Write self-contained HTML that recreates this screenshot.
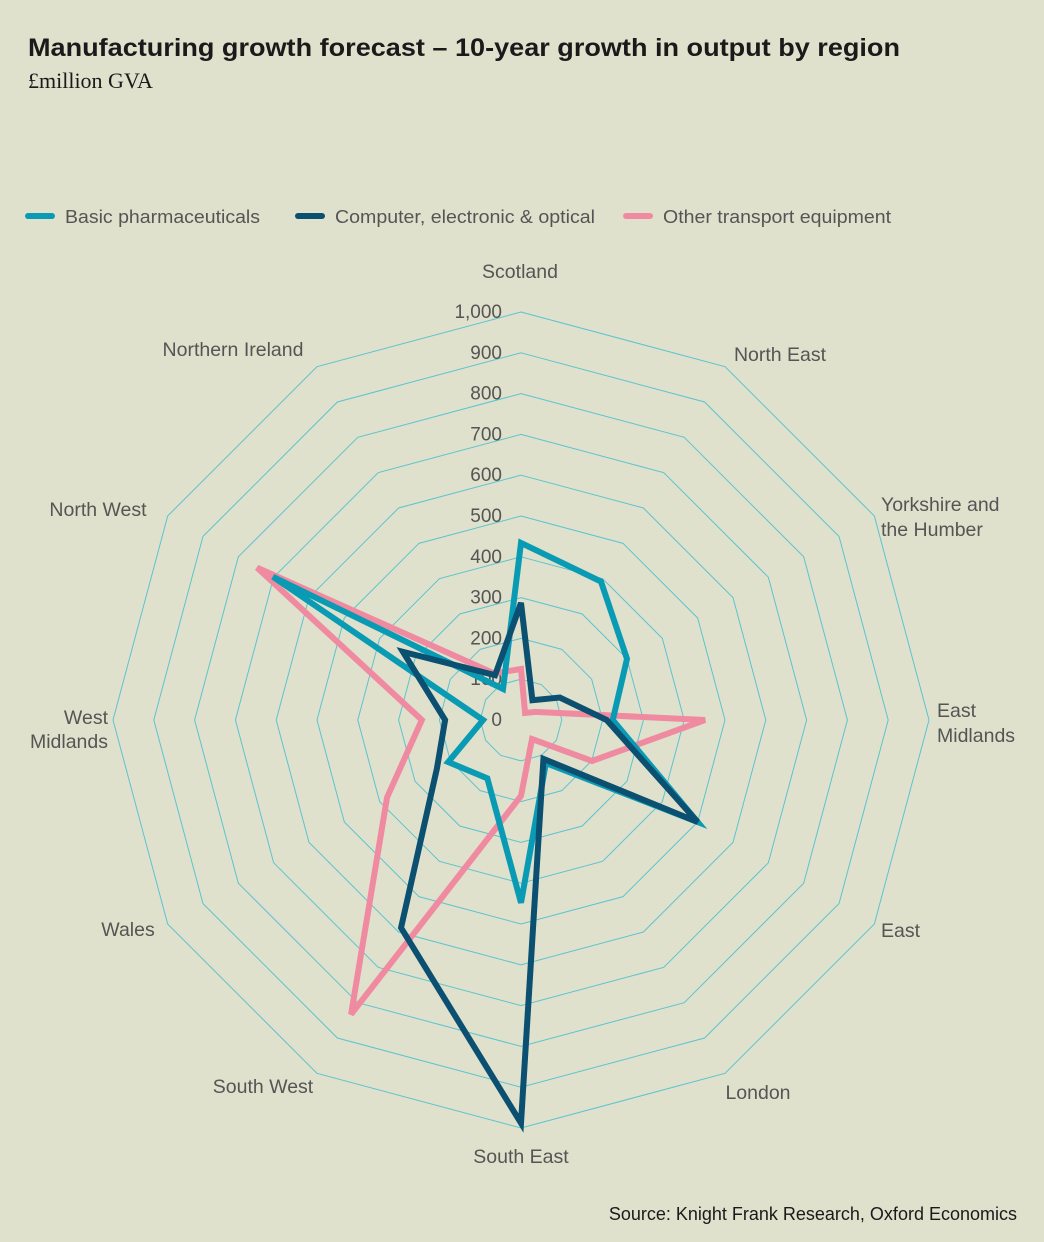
<!DOCTYPE html>
<html><head><meta charset="utf-8"><style>
body{margin:0;background:#dfe1cc;}
svg{display:block;font-family:"Liberation Sans",sans-serif;}
</style></head><body>
<svg id="s" width="1044" height="1242" viewBox="0 0 1044 1242" xmlns="http://www.w3.org/2000/svg">
<rect width="1044" height="1242" fill="#dfe1cc"/>
<text x="28" y="56" font-size="25" font-weight="bold" fill="#1a1a1a" textLength="872" lengthAdjust="spacingAndGlyphs">Manufacturing growth forecast – 10-year growth in output by region</text>
<text x="28" y="88" font-size="22" font-family="Liberation Serif,serif" fill="#1a1a1a">£million GVA</text>
<g font-size="18.5" fill="#555">
<line x1="28" y1="216" x2="52" y2="216" stroke="#0a9bb4" stroke-width="6" stroke-linecap="round"/>
<text x="65" y="223" textLength="195" lengthAdjust="spacingAndGlyphs">Basic pharmaceuticals</text>
<line x1="298" y1="216" x2="322" y2="216" stroke="#0b4f71" stroke-width="6" stroke-linecap="round"/>
<text x="335" y="223" textLength="260" lengthAdjust="spacingAndGlyphs">Computer, electronic &amp; optical</text>
<line x1="626" y1="216" x2="650" y2="216" stroke="#f08aa0" stroke-width="6" stroke-linecap="round"/>
<text x="663" y="223" textLength="228" lengthAdjust="spacingAndGlyphs">Other transport equipment</text>
</g>
<g id="rings" fill="none" stroke="#5cc3d0" stroke-width="1"></g>
<g id="ticks" font-size="19" fill="#555" text-anchor="end"></g>
<g id="series" fill="none" stroke-width="6" stroke-linejoin="miter"></g>
<g font-size="19.5" fill="#555">
<text x="520" y="278" text-anchor="middle">Scotland</text>
<text x="780" y="361" text-anchor="middle">North East</text>
<text x="881" y="511">Yorkshire and</text>
<text x="881" y="536">the Humber</text>
<text x="937" y="717">East</text>
<text x="937" y="742">Midlands</text>
<text x="881" y="937">East</text>
<text x="758" y="1099" text-anchor="middle">London</text>
<text x="521" y="1163" text-anchor="middle">South East</text>
<text x="263" y="1093" text-anchor="middle">South West</text>
<text x="128" y="936" text-anchor="middle">Wales</text>
<text x="108" y="724" text-anchor="end">West</text>
<text x="108" y="748" text-anchor="end">Midlands</text>
<text x="98" y="516" text-anchor="middle">North West</text>
<text x="233" y="356" text-anchor="middle">Northern Ireland</text>
</g>
<text x="1017" y="1220" font-size="18" fill="#1a1a1a" text-anchor="end">Source: Knight Frank Research, Oxford Economics</text>
</svg>
<script>
var cx=521,cy=720,k=0.408,NS="http://www.w3.org/2000/svg";
function pt(i,v){var a=i*Math.PI/6;return [cx+v*k*Math.sin(a),cy-v*k*Math.cos(a)];}
var rings=document.getElementById('rings');
for(var r=100;r<=1000;r+=100){var p=[];for(var i=0;i<12;i++){p.push(pt(i,r).join(','));}
var e=document.createElementNS(NS,'polygon');e.setAttribute('points',p.join(' '));rings.appendChild(e);}
var t=document.getElementById('ticks');
for(var r=0;r<=1000;r+=100){var e=document.createElementNS(NS,'text');e.setAttribute('x',502);e.setAttribute('y',cy-r*k+6);
e.textContent=r==1000?'1,000':String(r);t.appendChild(e);}
var data=[
["#f08aa0",[125,20,40,451,201,54,186,833,379,243,747,132]],
["#0a9bb4",[434,392,300,225,500,122,448,165,206,93,702,88]],
["#0b4f71",[287,56,110,210,500,110,988,588,238,186,334,127]]
];
var sg=document.getElementById('series');
data.forEach(function(d){var p=d[1].map(function(v,i){return pt(i,v).join(',');});
var e=document.createElementNS(NS,'polygon');e.setAttribute('points',p.join(' '));e.setAttribute('stroke',d[0]);sg.appendChild(e);});
</script>
</body></html>
